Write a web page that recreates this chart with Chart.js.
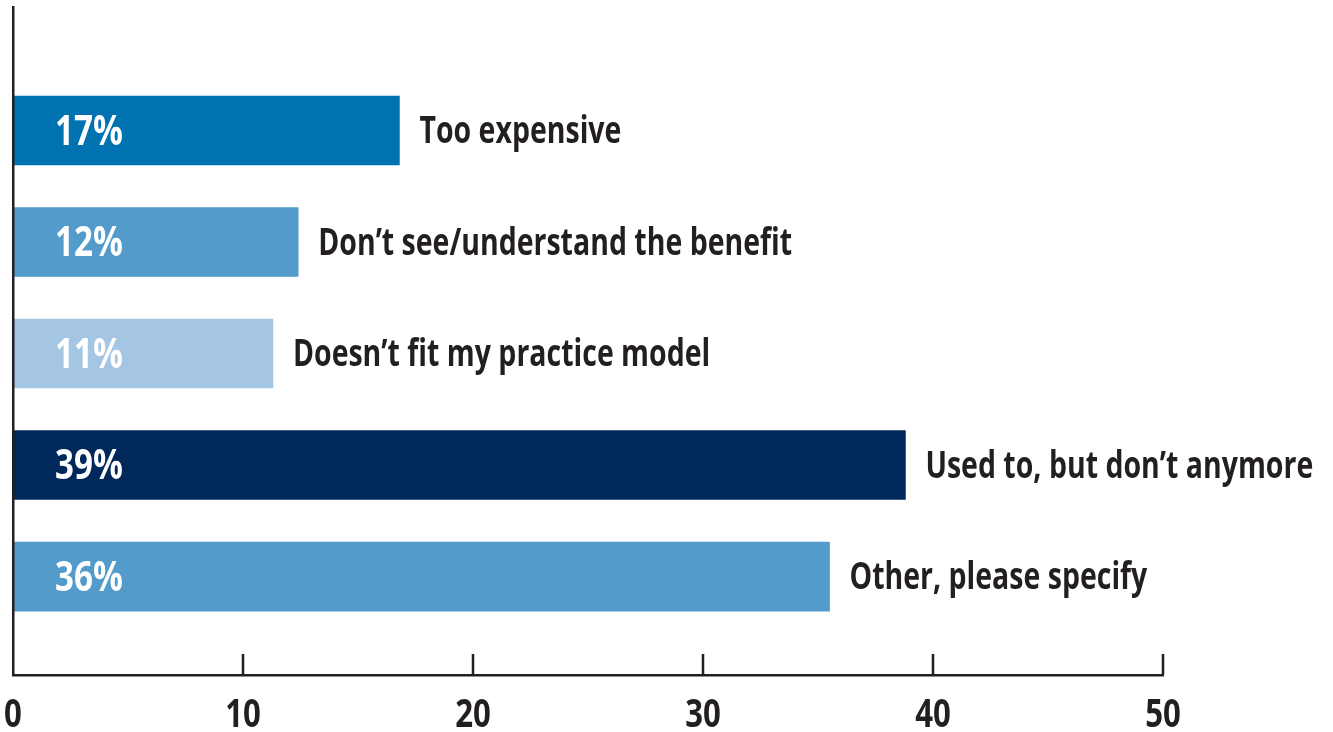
<!DOCTYPE html>
<html>
<head>
<meta charset="utf-8">
<script src="https://cdn.jsdelivr.net/npm/chart.js@4.4.1/dist/chart.umd.min.js"></script>
<style>
  html, body { margin: 0; padding: 0; background: #ffffff; }
  #wrap { position: relative; width: 1333px; height: 732px; }
</style>
</head>
<body>
<div id="wrap"><canvas id="c" width="1333" height="732"></canvas></div>
<script>
const categories = [
  'Too expensive',
  'Don\u2019t see/understand the benefit',
  'Doesn\u2019t fit my practice model',
  'Used to, but don\u2019t anymore',
  'Other, please specify'
];
const values = [16.8, 12.4, 11.3, 38.8, 35.5];
const valueLabels = ['17%', '12%', '11%', '39%', '36%'];
const barColors = ['#0072B0', '#529BCA', '#A4C6E3', '#00285A', '#529BCA'];
const xTickValues = [0, 10, 20, 30, 40, 50];

const FONT = '"Open Sans", "Liberation Sans Narrow", sans-serif';
const INK = '#231F20';

function squeezedText(ctx, text, x, y, sx, align) {
  ctx.save();
  ctx.translate(x, y);
  ctx.scale(sx, 1);
  ctx.textAlign = align;
  ctx.fillText(text, 0, 0);
  ctx.restore();
}

const labelPlugin = {
  id: 'labels',
  afterDatasetsDraw(chart) {
    const ctx = chart.ctx;
    const xs = chart.scales.x;
    const area = chart.chartArea;
    ctx.save();
    ctx.strokeStyle = INK;
    ctx.lineWidth = 2.5;
    ctx.fillStyle = INK;
    ctx.font = 'bold 39px ' + FONT;
    ctx.textBaseline = 'alphabetic';
    xs.ticks.forEach(t => {
      const px = xs.getPixelForValue(t.value);
      if (t.value !== 0) {
        ctx.beginPath();
        ctx.moveTo(px, area.bottom);
        ctx.lineTo(px, area.bottom - 21);
        ctx.stroke();
      }
      squeezedText(ctx, String(t.value), px, area.bottom + 52, 0.8, 'center');
    });
    const meta = chart.getDatasetMeta(0);
    meta.data.forEach((bar, i) => {
      const cy = bar.y;
      ctx.fillStyle = '#ffffff';
      ctx.font = 'bold 41px ' + FONT;
      squeezedText(ctx, valueLabels[i], xs.getPixelForValue(0) + 42, cy + 14, 0.81, 'left');
      ctx.fillStyle = INK;
      ctx.font = 'bold 37px ' + FONT;
      squeezedText(ctx, categories[i], bar.x + 20, cy + 12.5, 0.77, 'left');
    });
    ctx.restore();
  }
};

new Chart(document.getElementById('c'), {
  type: 'bar',
  data: {
    datasets: [{
      data: values.map((v, i) => ({ x: v, y: i })),
      backgroundColor: barColors,
      borderWidth: 0,
      barThickness: 69
    }]
  },
  options: {
    indexAxis: 'y',
    responsive: false,
    animation: false,
    devicePixelRatio: 1,
    layout: { padding: { left: 13, top: 7, right: 170, bottom: 0 } },
    plugins: { legend: { display: false }, tooltip: { enabled: false } },
    scales: {
      x: {
        type: 'linear',
        min: 0,
        max: 50,
        afterBuildTicks(scale) { scale.ticks = xTickValues.map(v => ({ value: v })); },
        afterFit(scale) { scale.height = 57; scale.paddingLeft = 0; scale.paddingRight = 0; },
        grid: { display: false, drawTicks: false },
        border: { display: true, color: INK, width: 2.5 },
        ticks: { display: false }
      },
      y: {
        type: 'linear',
        reverse: true,
        offset: false,
        min: -1.108,
        max: 4.883,
        grid: { display: false, drawTicks: false, offset: false },
        border: { display: true, color: INK, width: 2.5, z: 1 },
        ticks: { display: false }
      }
    }
  },
  plugins: [labelPlugin]
});
</script>
</body>
</html>
